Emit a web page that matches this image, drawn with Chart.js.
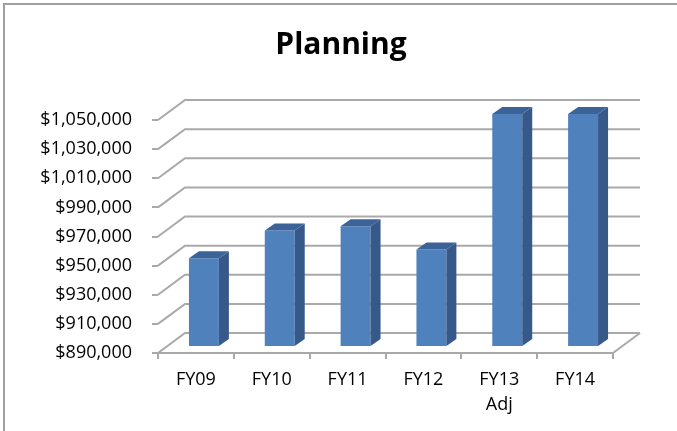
<!DOCTYPE html>
<html>
<head>
<meta charset="utf-8">
<script src="https://cdn.jsdelivr.net/npm/chart.js@4.4.1/dist/chart.umd.min.js"></script>
<style>
  body { margin: 0; background: #fff; }
  #wrap { position: relative; width: 677px; height: 431px; }
</style>
</head>
<body>
<div id="wrap"><canvas id="myChart" width="677" height="431"></canvas></div>
<script>
// données
var labels = ['FY09', 'FY10', 'FY11', 'FY12', ['FY13', 'Adj'], 'FY14'];
var planning = [951000, 970000, 973000, 957000, 1050000, 1050000];
var yMin = 890000;
var yMax = 1050000;
var yStep = 20000;

// décalage de profondeur (effet 3D)
var wallDx = 27, wallDy = -20;   // mur du fond
var barDx = 8, barDy = -6;       // face avant des barres
var sideDx = 10, sideDy = -7;    // épaisseur des barres
var gridColor = '#a9a9a9';

const frame3d = {
    id: 'frame3d',
    beforeDraw(chart) {
        const c = chart.ctx;
        c.save();
        c.fillStyle = '#fff';
        c.fillRect(0, 0, chart.width, chart.height);
        // bordure du cadre (haut et gauche)
        c.strokeStyle = '#a0a0a0';
        c.lineWidth = 2;
        c.beginPath();
        c.moveTo(4, chart.height);
        c.lineTo(4, 4);
        c.lineTo(chart.width, 4);
        c.stroke();
        c.restore();
    },
    beforeDatasetsDraw(chart) {
        const c = chart.ctx;
        const y = chart.scales.y;
        const area = chart.chartArea;
        c.save();
        c.strokeStyle = gridColor;
        c.lineWidth = 2;
        y.ticks.forEach(function (t) {
            const py = y.getPixelForValue(t.value);
            c.beginPath();
            c.moveTo(area.left, py);
            c.lineTo(area.left + wallDx, py + wallDy);
            c.lineTo(area.right + wallDx, py + wallDy);
            c.stroke();
        });
        // bord droit du sol
        c.beginPath();
        c.moveTo(area.right, area.bottom);
        c.lineTo(area.right + wallDx, area.bottom + wallDy);
        c.stroke();
        c.restore();

        // la face avant des barres est un peu en retrait
        c.save();
        c.translate(barDx, barDy);
    },
    afterDatasetsDraw(chart) {
        const c = chart.ctx;
        c.restore();
        const meta = chart.getDatasetMeta(0);
        meta.data.forEach(function (bar) {
            const p = bar.getProps(['x', 'y', 'width', 'base'], true);
            const left = p.x - p.width / 2 + barDx;
            const right = p.x + p.width / 2 + barDx;
            const top = p.y + barDy;
            const bottom = p.base + barDy;
            // côté
            c.fillStyle = '#36598a';
            c.beginPath();
            c.moveTo(right, top);
            c.lineTo(right + sideDx, top + sideDy);
            c.lineTo(right + sideDx, bottom + sideDy);
            c.lineTo(right, bottom);
            c.closePath();
            c.fill();
            // dessus
            c.fillStyle = '#3c6398';
            c.beginPath();
            c.moveTo(left, top);
            c.lineTo(left + sideDx, top + sideDy);
            c.lineTo(right + sideDx, top + sideDy);
            c.lineTo(right, top);
            c.closePath();
            c.fill();
        });
    }
};

const ctx = document.getElementById('myChart');
const chart = new Chart(ctx, {
    type: 'bar',
    data: {
        labels: labels,
        datasets: [{
            label: 'Planning',
            data: planning,
            base: yMin,
            backgroundColor: '#4f81bd',
            borderWidth: 0,
            barPercentage: 0.395,
            categoryPercentage: 1,
            clip: false
        }]
    },
    options: {
        responsive: false,
        animation: false,
        events: [],
        layout: { padding: { right: 0, left: 5, bottom: 0 } },
        plugins: {
            legend: { display: false },
            tooltip: { enabled: false },
            title: {
                display: true,
                text: 'Planning',
                color: '#000',
                font: { family: 'Open Sans', size: 30, weight: 'bold', lineHeight: 1.2 },
                padding: { top: 27, bottom: 57 }
            }
        },
        scales: {
            x: {
                grid: {
                    display: true,
                    drawOnChartArea: false,
                    tickLength: 6,
                    color: gridColor,
                    lineWidth: 2
                },
                border: { display: true, color: gridColor, width: 2 },
                ticks: {
                    color: '#000',
                    padding: 9,
                    maxRotation: 0,
                    font: { family: 'Open Sans', size: 18, lineHeight: 1.35 }
                },
                afterFit: function (scale) { scale.height = 78; }
            },
            y: {
                min: yMin,
                max: yMax,
                grid: {
                    display: true,
                    drawOnChartArea: false,
                    tickLength: 6,
                    color: gridColor,
                    lineWidth: 2
                },
                border: { display: false },
                ticks: {
                    stepSize: yStep,
                    color: '#000',
                    padding: 20,
                    font: { family: 'Open Sans', size: 18 },
                    callback: function (v) { return '$' + v.toLocaleString('en-US'); }
                },
                afterFit: function (scale) { scale.width = 153; }
            },
            // axe vide à droite, sert seulement à réserver la place du mur du fond
            yRight: {
                position: 'right',
                min: yMin,
                max: yMax,
                grid: { display: false },
                border: { display: false },
                ticks: { display: false },
                afterFit: function (scale) { scale.width = 64; }
            }
        }
    },
    plugins: [frame3d]
});
</script>
</body>
</html>
